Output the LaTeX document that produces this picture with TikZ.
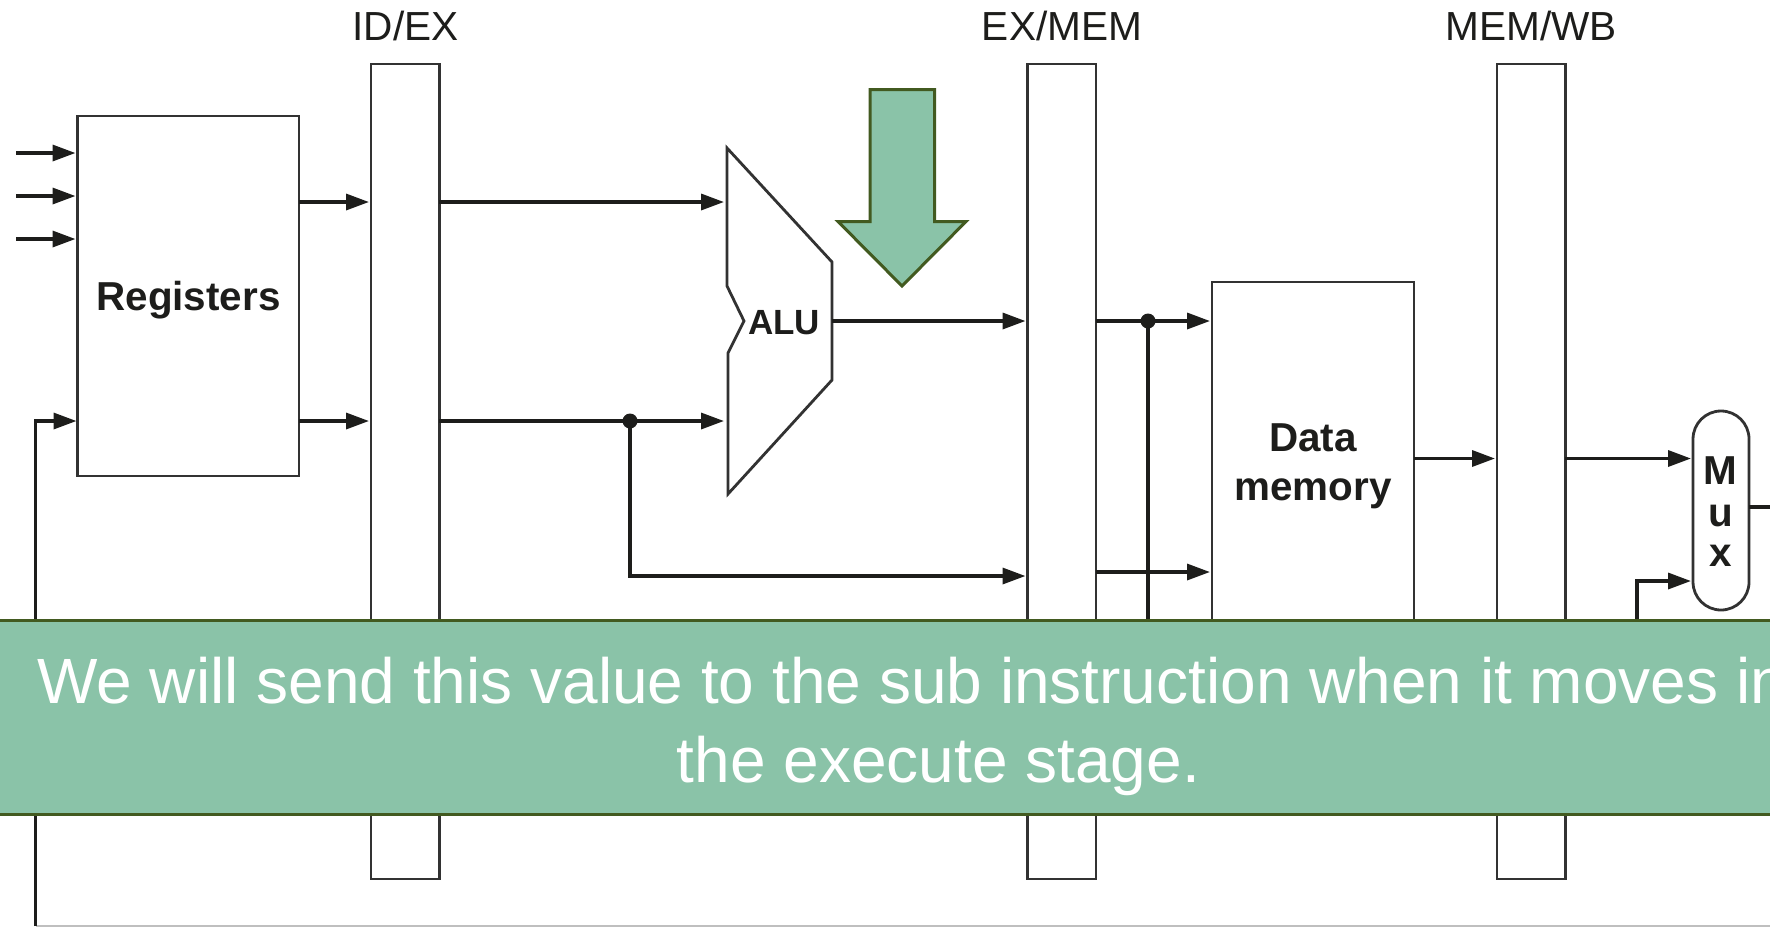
\documentclass[tikz,border=0pt]{standalone}
\usepackage{fontspec}
\setmainfont{Liberation Sans}
\usetikzlibrary{arrows.meta,calc}
\definecolor{ink}{RGB}{29,29,27}
\definecolor{boxline}{RGB}{50,50,50}
\definecolor{note}{RGB}{138,195,168}
\definecolor{noteline}{RGB}{66,90,32}
\tikzset{
  block/.style={draw=boxline,line width=1.4pt,fill=white,anchor=north west,inner sep=0pt,outer sep=0pt},
  barbox/.style={block,minimum width=34.2pt,minimum height=407.5pt},
  conn/.style={draw=ink,line width=1.7pt,-{Triangle[length=11.5pt,width=8pt]}},
  wire/.style={draw=ink,line width=1.7pt},
  junction/.style={circle,fill=ink,inner sep=0pt,minimum size=7.5pt},
  heading/.style={font=\fontsize{20.3}{24}\selectfont,text=ink,anchor=base,inner sep=0pt},
  boldlabel/.style={font=\fontsize{20.2}{24}\selectfont\bfseries,text=ink,anchor=base,inner sep=0pt},
  notetext/.style={font=\fontsize{32}{39}\selectfont,text=white,anchor=base,inner sep=0pt},
  notefill/.style={fill=note,draw=noteline,line width=1.5pt}
}
\begin{document}
\begin{tikzpicture}[x=0.5pt,y=-0.5pt]
\useasboundingbox (0,0) rectangle (1770,927);
\clip (0,0) rectangle (1770,927);
\fill[white] (0,0) rectangle (1770,927);

% headings
\node[heading] (h1) at (405.5,40) {ID/EX};
\node[heading] (h2) at (1062,40) {EX/MEM};
\node[heading] (h3) at (1531,40) {MEM/WB};

% blocks
\node[block,minimum width=110.75pt,minimum height=180pt] (reg) at (77.5,116) {};
\node[barbox] (idex) at (371,64) {};
\node[barbox] (exmem) at (1027.5,64) {};
\node[barbox] (memwb) at (1497,64) {};
\node[block,minimum width=101pt,minimum height=210pt] (dmem) at (1212,282) {};
\node[block,rounded corners=14pt,minimum width=28pt,minimum height=99.5pt] (mux) at (1693,411) {};
\draw[boxline,line width=1.4pt,fill=white,line join=miter]
  (727,148) -- (832,262) -- (832,380) -- (728,494) -- (728,353) -- (744,321) -- (727,286) -- cycle;

% labels
\node[boldlabel] (lreg) at (188.5,310) {Registers};
\node[boldlabel,font=\fontsize{17.5}{21}\selectfont\bfseries] (lalu) at (784,334) {ALU};
\node[boldlabel] (ld1) at (1313,451) {Data};
\node[boldlabel] (ld2) at (1313,500) {memory};
\node[boldlabel] (lm) at (1720.5,484) {M};
\node[boldlabel] (lu) at (1720.5,526) {u};
\node[boldlabel] (lx) at (1720.5,566) {x};

% free ends and levels
\coordinate (in1) at (16,153);
\coordinate (in2) at (16,196);
\coordinate (in3) at (16,239);
\coordinate (lvA) at (0,202);
\coordinate (lvB) at (0,421);
\coordinate (lvC) at (0,321);
\coordinate (lvD) at (0,576);
\coordinate (lvE) at (0,572);
\coordinate (lvF) at (0,458.5);
\coordinate (lvG) at (0,581);
\coordinate (alua) at (724,202);
\coordinate (alub) at (724,421);
\coordinate (aluo) at (832,321);
\coordinate (bl) at (35.5,926);
\coordinate (br) at (1770,926);
\coordinate (hid1) at (1148,700);
\coordinate (hid2) at (1637,700);
\coordinate (muxo) at (1770,507);
\coordinate (muxs) at (1749,507);

% connectors
\draw[conn] (in1) -- ([xshift=-1pt]reg.west |- in1);
\draw[conn] (in2) -- ([xshift=-1pt]reg.west |- in2);
\draw[conn] (in3) -- ([xshift=-1pt]reg.west |- in3);
\draw[draw=black!25,line width=1pt] (bl) -- (br);
\draw[conn] (bl) -- (bl |- lvB) -- ([xshift=-0.5pt]reg.west |- lvB);
\draw[conn] (reg.east |- lvA) -- ([xshift=-1pt]idex.west |- lvA);
\draw[conn] (reg.east |- lvB) -- ([xshift=-1pt]idex.west |- lvB);
\draw[conn] (idex.east |- lvA) -- (alua);
\draw[conn] (idex.east |- lvB) -- (alub);
\node[junction] (j1) at (630,421) {};
\draw[conn] (j1.center) -- (j1.center |- lvD) -- ([xshift=-1pt]exmem.west |- lvD);
\draw[conn] (aluo) -- ([xshift=-1pt]exmem.west |- lvC);
\draw[conn] (exmem.east |- lvC) -- ([xshift=-1pt]dmem.west |- lvC);
\node[junction] (j2) at (1148,321) {};
\draw[wire] (j2.center) -- (hid1);
\draw[conn] (exmem.east |- lvE) -- ([xshift=-1pt]dmem.west |- lvE);
\draw[conn] (dmem.east |- lvF) -- ([xshift=-1pt]memwb.west |- lvF);
\draw[conn] (memwb.east |- lvF) -- ([xshift=-1pt]mux.west |- lvF);
\draw[conn] (hid2) -- (hid2 |- lvG) -- ([xshift=-1pt]mux.west |- lvG);
\draw[wire] (muxs) -- (muxo);

% callout arrow
\draw[notefill,line join=miter] (870,89.5) -- (934.5,89.5) -- (934.5,221.5) -- (966,221.5) -- (902,286) -- (838,221.5) -- (870,221.5) -- cycle;

% banner
\node[notefill,anchor=north west,minimum width=1000pt,minimum height=97pt,inner sep=0pt] (banner) at (-50,618.7) {};
\node[notetext] (t1) at (938.5,703.5) {We will send this value to the sub instruction when it moves into};
\node[notetext] (t2) at (938.5,782) {the execute stage.};
\end{tikzpicture}
\end{document}
